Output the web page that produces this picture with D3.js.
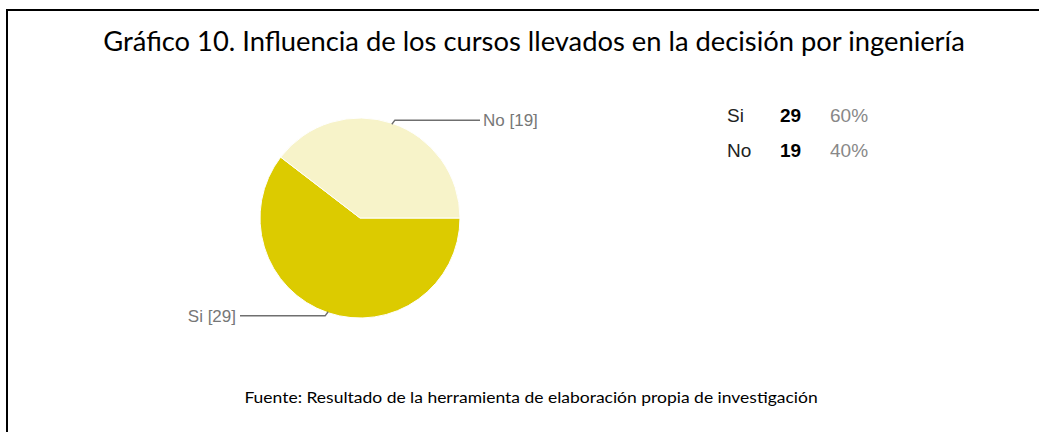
<!DOCTYPE html>
<html>
<head>
<meta charset="utf-8">
<script src="https://cdn.jsdelivr.net/npm/d3@7"></script>
<style>
  body { margin: 0; background: #fff; }
</style>
</head>
<body>
<div id="chart"></div>
<script>
const width = 1039;
const height = 432;

const categories = ["Si", "No"];
const counts = [29, 19];
const percents = ["60%", "40%"];
const colors = ["#dccb00", "#f7f3c9"];

const titleText = "Gráfico 10. Influencia de los cursos llevados en la decisión por ingeniería";
const sourceText = "Fuente: Resultado de la herramienta de elaboración propia de investigación";

const svg = d3.select("#chart").append("svg")
  .attr("width", width)
  .attr("height", height);

// frame around the figure (runs off the right and bottom)
svg.append("path")
  .attr("d", "M7,440 V10 H1045")
  .attr("fill", "none")
  .attr("stroke", "#000")
  .attr("stroke-width", 2);

// squeeze a centred text horizontally so it fills the target width
function fitText(x, y, size, str, target) {
  const grp = svg.append("g");
  const t = grp.append("text")
    .attr("x", 0)
    .attr("y", 0)
    .attr("text-anchor", "middle")
    .attr("font-family", "Lato, 'Open Sans', sans-serif")
    .attr("font-size", size)
    .attr("fill", "#000")
    .text(str);
  const sx = target / t.node().getComputedTextLength();
  grp.attr("transform", `translate(${x},${y}) scale(${sx},1)`);
}

fitText(534, 51, 27, titleText, 862);
fitText(531, 403, 14.5, sourceText, 574);

// pie
const cx = 360, cy = 218, r = 100;
const data = categories.map((c, i) => ({ name: c, value: counts[i], color: colors[i] }));

const pie = d3.pie()
  .value(d => d.value)
  .sort(null)
  .startAngle(Math.PI / 2)
  .endAngle(Math.PI / 2 + 2 * Math.PI);

const arc = d3.arc().innerRadius(0).outerRadius(r);
const arcs = pie(data);

const g = svg.append("g").attr("transform", `translate(${cx},${cy})`);

g.selectAll("path.slice")
  .data(arcs)
  .enter().append("path")
  .attr("class", "slice")
  .attr("d", arc)
  .attr("fill", d => d.data.color)
  .attr("stroke", "#fff")
  .attr("stroke-width", 1);

// leader lines and labels
const labelFont = "Arial, 'Liberation Sans', sans-serif";
function pointAt(angle, rad) {
  return [Math.sin(angle) * rad, -Math.cos(angle) * rad];
}

arcs.forEach(d => {
  const mid = (d.startAngle + d.endAngle) / 2;
  const p0 = pointAt(mid, r - 1);
  const right = Math.sin(mid) > 0;
  const yLine = p0[1] + (p0[1] < 0 ? -4 : 4);
  const p1 = [p0[0] + (right ? 3 : -3), yLine];
  const p2 = [right ? 120 : -120, yLine];
  g.append("polyline")
    .attr("points", [p0, p1, p2].map(p => p.join(",")).join(" "))
    .attr("fill", "none")
    .attr("stroke", "#6f6f6f")
    .attr("stroke-width", 1.3);
  g.append("text")
    .attr("x", right ? p2[0] + 3 : p2[0] - 4)
    .attr("y", yLine + 6)
    .attr("text-anchor", right ? "start" : "end")
    .attr("font-family", labelFont)
    .attr("font-size", 17)
    .attr("fill", "#777")
    .text(`${d.data.name} [${d.data.value}]`);
});

// legend table
const rowY = d3.scalePoint().domain(categories).range([122, 157]);
const legend = svg.append("g");
categories.forEach((c, i) => {
  const y = rowY(c);
  legend.append("text")
    .attr("x", 727).attr("y", y)
    .attr("font-family", labelFont).attr("font-size", 19)
    .attr("fill", "#222")
    .text(c);
  legend.append("text")
    .attr("x", 780).attr("y", y)
    .attr("font-family", labelFont).attr("font-size", 19)
    .attr("font-weight", "bold")
    .attr("fill", "#000")
    .text(counts[i]);
  legend.append("text")
    .attr("x", 830).attr("y", y)
    .attr("font-family", labelFont).attr("font-size", 19)
    .attr("fill", "#888")
    .text(percents[i]);
});
</script>
</body>
</html>
